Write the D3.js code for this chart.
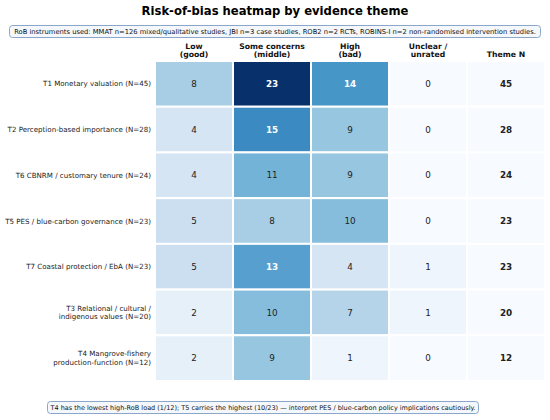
<!DOCTYPE html>
<head>
  <meta charset="utf-8">
  <script src="https://d3js.org/d3.v7.min.js"></script>
  <style>
    body { margin:0; background:#fff; }
    text { font-family: "DejaVu Sans", sans-serif; }
  </style>
</head>
<body>
<script>
var themes = [
  ["T1 Monetary valuation (N=45)"],
  ["T2 Perception-based importance (N=28)"],
  ["T6 CBNRM / customary tenure (N=24)"],
  ["T5 PES / blue-carbon governance (N=23)"],
  ["T7 Coastal protection / EbA (N=23)"],
  ["T3 Relational / cultural /", "indigenous values (N=20)"],
  ["T4 Mangrove-fishery", "production-function (N=12)"]
];
var columns = [["Low", "(good)"], ["Some concerns", "(middle)"], ["High", "(bad)"], ["Unclear /", "unrated"], ["Theme N"]];
var low     = [8, 4, 4, 5, 5, 2, 2];
var some    = [23, 15, 11, 8, 13, 10, 9];
var high    = [14, 9, 9, 10, 4, 7, 1];
var unclear = [0, 0, 0, 0, 1, 1, 0];
var themeN  = [45, 28, 24, 23, 23, 20, 12];

var width = 550, height = 420;
var svg = d3.select("body").append("svg")
  .attr("width", width)
  .attr("height", height);

var gridLeft = 155, gridRight = 545, gridTop = 61, gridBottom = 381;

var x = d3.scaleBand().domain(d3.range(5)).range([gridLeft, gridRight]);
var y = d3.scaleBand().domain(d3.range(7)).range([gridTop, gridBottom]);

// matplotlib-like Blues, 0..23
var vmax = 23;
var color = d3.scaleLinear()
  .domain(d3.range(9).map(function(i) { return i * vmax / 8; }))
  .range(d3.schemeBlues[9])
  .clamp(true);

var cells = [];
themes.forEach(function(t, r) {
  [low[r], some[r], high[r], unclear[r]].forEach(function(v, c) {
    cells.push({r: r, c: c, v: v, n: false});
  });
  cells.push({r: r, c: 4, v: themeN[r], n: true});
});

// title
svg.append("text")
  .attr("x", width / 2).attr("y", 15)
  .attr("text-anchor", "middle")
  .style("font-size", "11.6px").style("font-weight", "bold")
  .text("Risk-of-bias heatmap by evidence theme");

// instruments box
var info = svg.append("g");
info.append("rect")
  .attr("x", 9.5).attr("y", 25.5).attr("width", 531).attr("height", 12)
  .attr("rx", 3)
  .attr("fill", "#f4f7fb").attr("stroke", "#8aa6c8").attr("stroke-width", 1);
info.append("text")
  .attr("x", 275).attr("y", 34.2)
  .attr("text-anchor", "middle")
  .style("font-size", "6.75px").attr("fill", "#111")
  .text("RoB instruments used: MMAT n=126 mixed/qualitative studies, JBI n=3 case studies, ROB2 n=2 RCTs, ROBINS-I n=2 non-randomised intervention studies.");

// column headers
columns.forEach(function(lines, c) {
  var t = svg.append("text")
    .attr("text-anchor", "middle")
    .style("font-size", "7.7px").style("font-weight", "bold")
    .attr("fill", "#111");
  lines.forEach(function(l, i) {
    t.append("tspan")
      .attr("x", x(c) + x.bandwidth() / 2)
      .attr("y", 57 - (lines.length - 1 - i) * 8.5)
      .text(l);
  });
});

// heatmap cells
svg.append("g").selectAll("rect")
  .data(cells)
  .enter()
  .append("rect")
  .attr("x", function(d) { return x(d.c); })
  .attr("y", function(d) { return y(d.r); })
  .attr("width", x.bandwidth())
  .attr("height", y.bandwidth())
  .attr("fill", function(d) { return d.n ? "#f7fbff" : color(d.v); })
  .attr("stroke", "#fff")
  .attr("stroke-width", 2);

svg.append("g").selectAll("text")
  .data(cells)
  .enter()
  .append("text")
  .attr("x", function(d) { return x(d.c) + x.bandwidth() / 2; })
  .attr("y", function(d) { return y(d.r) + y.bandwidth() / 2 + 3.2; })
  .attr("text-anchor", "middle")
  .style("font-size", "8.8px")
  .style("font-weight", function(d) { return (d.n || d.v > 12) ? "bold" : "normal"; })
  .attr("fill", function(d) { return (!d.n && d.v > 12) ? "#fff" : "#222"; })
  .text(function(d) { return d.v; });

// row labels
themes.forEach(function(lines, r) {
  var cy = y(r) + y.bandwidth() / 2;
  var t = svg.append("text")
    .attr("text-anchor", "end")
    .style("font-size", "7.1px").attr("fill", "#222");
  lines.forEach(function(l, i) {
    t.append("tspan")
      .attr("x", 151)
      .attr("y", cy + 2.5 + (i - (lines.length - 1) / 2) * 8.3)
      .text(l);
  });
});

// footer note
var foot = svg.append("g");
foot.append("rect")
  .attr("x", 47.5).attr("y", 401.5).attr("width", 431).attr("height", 12)
  .attr("rx", 3)
  .attr("fill", "#f4f7fb").attr("stroke", "#8aa6c8").attr("stroke-width", 1);
foot.append("text")
  .attr("x", 263).attr("y", 410.3)
  .attr("text-anchor", "middle")
  .style("font-size", "6.5px").attr("fill", "#111")
  .text("T4 has the lowest high-RoB load (1/12);  T5 carries the highest (10/23) \u2014 interpret PES / blue-carbon policy implications cautiously.");
</script>
</body>
